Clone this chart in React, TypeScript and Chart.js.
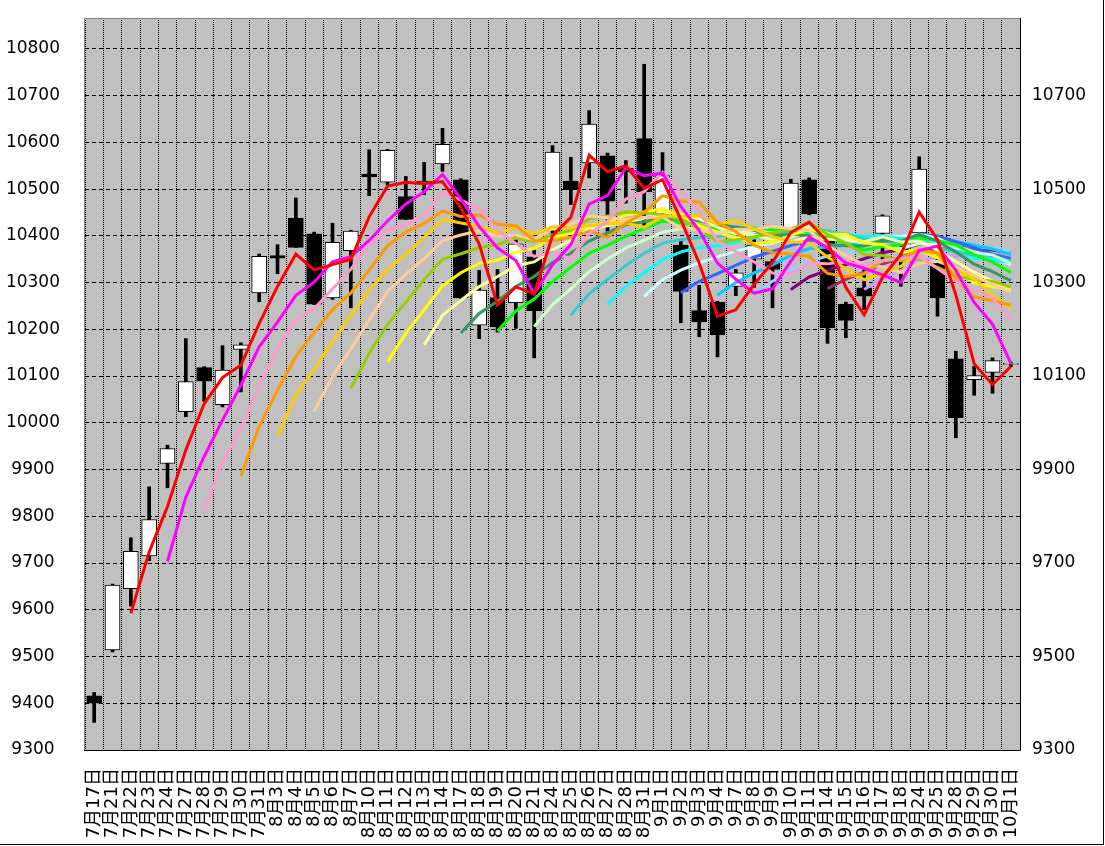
import React, { useEffect, useRef } from "react";
import { Chart, registerables } from "chart.js";

Chart.register(...registerables);

// ---- data ----
const dates = [
  "7月17日", "7月21日", "7月22日", "7月23日", "7月24日", "7月27日", "7月28日", "7月29日", "7月30日", "7月31日",
  "8月3日", "8月4日", "8月5日", "8月6日", "8月7日", "8月10日", "8月11日", "8月12日", "8月13日", "8月14日",
  "8月17日", "8月18日", "8月19日", "8月20日", "8月21日", "8月24日", "8月25日", "8月26日", "8月27日", "8月28日",
  "8月31日", "9月1日", "9月2日", "9月3日", "9月4日", "9月7日", "9月8日", "9月9日", "9月10日", "9月11日",
  "9月14日", "9月15日", "9月16日", "9月17日", "9月18日", "9月24日", "9月25日", "9月28日", "9月29日", "9月30日",
  "10月1日",
];

const opens = [
  9416, 9514, 9645, 9715, 9913, 10024, 10118, 10039, 10157, 10278,
  10358, 10438, 10404, 10267, 10368, 10532, 10515, 10484, 10512, 10554,
  10520, 10209, 10268, 10257, 10355, 10410, 10517, 10556, 10571, 10545,
  10608, 10450, 10380, 10240, 10258, 10292, 10350, 10345, 10417, 10520,
  10388, 10254, 10289, 10405, 10375, 10406, 10342, 10137, 10092, 10108,
  10125,
];

const highs = [
  9423, 9655, 9754, 9863, 9952, 10180, 10120, 10165, 10171, 10361,
  10381, 10481, 10408, 10427, 10412, 10584, 10585, 10527, 10557, 10630,
  10522, 10326, 10328, 10400, 10370, 10593, 10568, 10668, 10577, 10561,
  10767, 10578, 10390, 10294, 10260, 10328, 10392, 10350, 10521, 10524,
  10390, 10258, 10328, 10445, 10380, 10569, 10350, 10153, 10121, 10139,
  10130,
];

const lows = [
  9359, 9510, 9608, 9705, 9861, 10013, 10046, 10034, 10066, 10259,
  10319, 10375, 10253, 10264, 10246, 10486, 10509, 10435, 10488, 10538,
  10266, 10180, 10194, 10202, 10139, 10405, 10467, 10524, 10410, 10470,
  10420, 10440, 10214, 10184, 10141, 10272, 10290, 10246, 10410, 10445,
  10170, 10182, 10242, 10350, 10292, 10400, 10228, 9968, 10059, 10063,
  10120,
];

const closes = [
  9400, 9653, 9725, 9793, 9945, 10088, 10089, 10113, 10167, 10356,
  10352, 10375, 10254, 10386, 10410, 10526, 10583, 10435, 10517, 10596,
  10267, 10284, 10205, 10383, 10240, 10579, 10499, 10639, 10474, 10537,
  10494, 10529, 10281, 10216, 10188, 10321, 10380, 10328, 10513, 10447,
  10203, 10219, 10271, 10443, 10366, 10543, 10267, 10011, 10101, 10133,
  10127,
];

// moving-average periods drawn in the chart and their colours
const maPeriods = [3, 5, 7, 9, 11, 13, 15, 17, 19, 21, 23, 25, 27, 29, 31, 33, 35, 37, 39, 41, 43];
const maColors = [
  "#FF0000", "#FF00FF", "#FF99CC", "#FF9900", "#FFCC00", "#FFCC99", "#99CC00", "#FFFF00", "#FFFF99", "#339966",
  "#00FF00", "#CCFFCC", "#33CCCC", "#00FFFF", "#CCFFFF", "#3366FF", "#00CCFF", "#99CCFF", "#800080", "#993366",
  "#CC99FF",
];

const leftTicks = [9300, 9400, 9500, 9600, 9700, 9800, 9900, 10000, 10100, 10200, 10300, 10400, 10500, 10600, 10700, 10800];
const rightTicks = [9300, 9500, 9700, 9900, 10100, 10300, 10500, 10700];
const yMin = 9300;
const yMax = 10866;

// simple moving average of the closes (the indicator the original chart plots)
function movingAverage(values: number[], period: number): (number | null)[] {
  return values.map((_, i) => {
    if (i < period - 1) return null;
    let s = 0;
    for (let k = i - period + 1; k <= i; k++) s += values[k];
    return s / period;
  });
}

const FONT = '"DejaVu Sans", "Noto Sans CJK JP", sans-serif';

const bgPlugin = {
  id: "bgPlugin",
  beforeDraw(chart: any) {
    const { ctx, chartArea } = chart;
    ctx.save();
    ctx.fillStyle = "#FFFFFF";
    ctx.fillRect(0, 0, chart.width, chart.height);
    ctx.fillStyle = "#C0C0C0";
    ctx.fillRect(chartArea.left, chartArea.top, chartArea.right - chartArea.left, chartArea.bottom - chartArea.top);
    ctx.restore();
  },
  afterDraw(chart: any) {
    const { ctx, chartArea } = chart;
    const { left, top, right, bottom } = chartArea;
    ctx.save();
    ctx.lineWidth = 1;
    ctx.setLineDash([]);
    ctx.strokeStyle = "#808080";
    ctx.beginPath();
    ctx.moveTo(left - 0.5, bottom);
    ctx.lineTo(left - 0.5, top + 0.5);
    ctx.lineTo(right, top + 0.5);
    ctx.stroke();
    ctx.strokeStyle = "#000000";
    ctx.beginPath();
    ctx.moveTo(left - 1, bottom + 0.5);
    ctx.lineTo(right + 0.5, bottom + 0.5);
    ctx.lineTo(right + 0.5, top);
    ctx.stroke();
    ctx.restore();
  },
};

export default function App() {
  const canvasRef = useRef<HTMLCanvasElement | null>(null);

  useEffect(() => {
    const canvas = canvasRef.current;
    if (!canvas) return;

    const wickData = dates.map((_, i) => [lows[i], highs[i]]);
    const bodyData = dates.map((_, i) => [opens[i], closes[i]]);
    const bodyColors = dates.map((_, i) => (closes[i] >= opens[i] ? "#FFFFFF" : "#000000"));

    const lineSets = maPeriods.map((p, idx) => ({
      type: "line" as const,
      label: "MA" + p,
      data: movingAverage(closes, p),
      borderColor: maColors[idx],
      backgroundColor: maColors[idx],
      borderWidth: 3,
      pointRadius: 0,
      fill: false,
      tension: 0,
      order: idx,
      yAxisID: "y",
    }));

    const chart = new Chart(canvas, {
      type: "bar",
      data: {
        labels: dates,
        datasets: [
          ...lineSets,
          {
            type: "bar" as const,
            label: "body",
            data: bodyData as any,
            backgroundColor: bodyColors,
            borderColor: "#000000",
            borderWidth: 1,
            borderSkipped: false,
            barThickness: 15,
            grouped: false,
            order: 100,
            yAxisID: "y",
          },
          {
            type: "bar" as const,
            label: "wick",
            data: wickData as any,
            backgroundColor: "#000000",
            borderWidth: 0,
            barThickness: 3,
            grouped: false,
            order: 101,
            yAxisID: "y",
          },
        ] as any,
      },
      options: {
        animation: false,
        responsive: false,
        events: [],
        layout: { padding: { top: 18, left: 0, right: 0, bottom: 0 } },
        plugins: { legend: { display: false }, tooltip: { enabled: false } },
        scales: {
          x: {
            type: "category",
            offset: true,
            grid: { offset: true, color: "#000000", lineWidth: 1, drawTicks: false },
            border: { display: false, dash: [1, 1] },
            ticks: {
              autoSkip: false,
              minRotation: 90,
              maxRotation: 90,
              padding: 18,
              color: "#000000",
              font: { family: FONT, size: 18 },
            },
            afterFit: (s: any) => {
              s.height = 94;
              s.paddingLeft = 0;
              s.paddingRight = 0;
              s.paddingTop = 0;
              s.paddingBottom = 0;
            },
          },
          y: {
            type: "linear",
            position: "left",
            min: yMin,
            max: yMax,
            grid: { color: "#000000", lineWidth: 1, drawTicks: false },
            border: { display: false, dash: [4, 3] },
            ticks: {
              padding: 25,
              crossAlign: "center",
              color: "#000000",
              font: { family: FONT, size: 17 },
              callback: (v: any) => String(v),
            },
            afterBuildTicks: (s: any) => {
              s.ticks = leftTicks.map((v) => ({ value: v }));
            },
            afterFit: (s: any) => {
              s.width = 85;
              s.paddingTop = 0;
              s.paddingBottom = 0;
              s.paddingLeft = 0;
              s.paddingRight = 0;
            },
          },
          y2: {
            type: "linear",
            position: "right",
            min: yMin,
            max: yMax,
            grid: { display: false, drawTicks: false },
            border: { display: false },
            ticks: {
              padding: 12,
              crossAlign: "near",
              color: "#000000",
              font: { family: FONT, size: 17 },
              callback: (v: any) => String(v),
            },
            afterBuildTicks: (s: any) => {
              s.ticks = rightTicks.map((v) => ({ value: v }));
            },
            afterFit: (s: any) => {
              s.width = 83;
              s.paddingTop = 0;
              s.paddingBottom = 0;
              s.paddingLeft = 0;
              s.paddingRight = 0;
            },
          },
        },
      } as any,
      plugins: [bgPlugin],
    });

    return () => {
      chart.destroy();
    };
  }, []);

  return (
    <div
      style={{
        position: "absolute",
        left: 0,
        top: 0,
        width: 1103,
        height: 844,
        borderRight: "1px solid #000",
        borderBottom: "1px solid #000",
        background: "#FFFFFF",
      }}
    >
      <canvas ref={canvasRef} width={1103} height={844} style={{ display: "block" }} />
    </div>
  );
}
